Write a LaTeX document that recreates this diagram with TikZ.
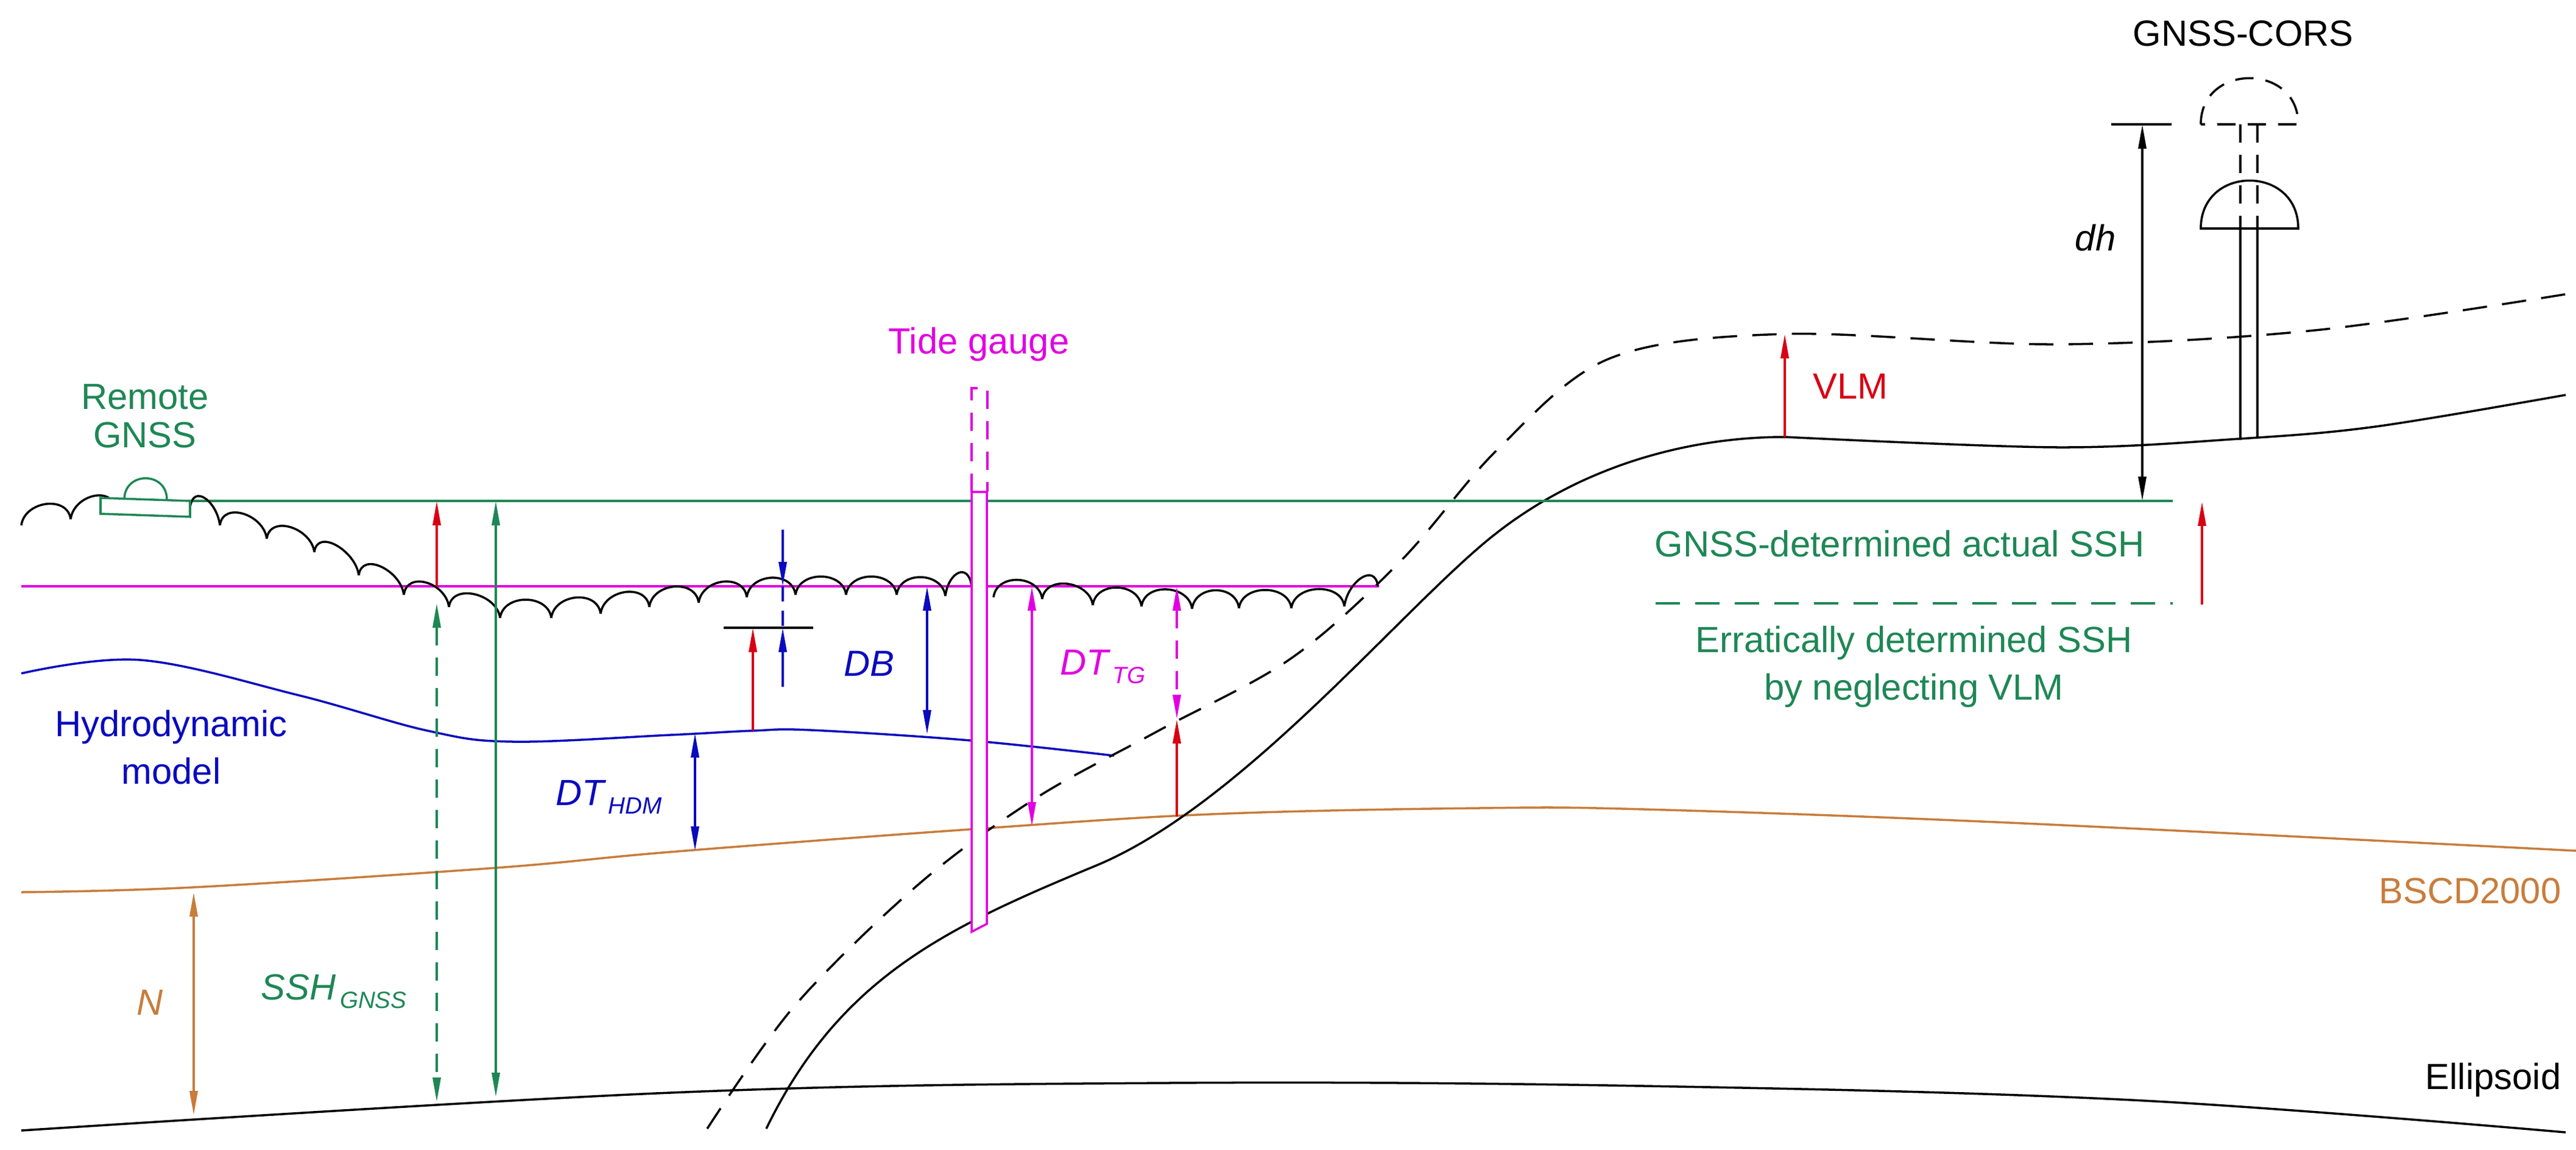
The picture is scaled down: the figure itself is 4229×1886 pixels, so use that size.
\documentclass[tikz,border=0pt]{standalone}
\usepackage{fontspec}
\setmainfont{Liberation Sans}
\usetikzlibrary{arrows.meta}
\definecolor{cgreen}{RGB}{30,135,85}
\definecolor{cmag}{RGB}{225,0,225}
\definecolor{cblue}{RGB}{10,10,190}
\definecolor{cbrown}{RGB}{200,125,60}
\definecolor{cred}{RGB}{215,0,20}
\tikzset{
  ln/.style={line width=1pt},
  tip/.style={-{Triangle[length=4mm,width=1.3mm]}},
  dtip/.style={{Triangle[length=4mm,width=1.3mm]}-{Triangle[length=4mm,width=1.3mm]}},
  lbl/.style={font=\fontsize{17}{20}\selectfont, inner sep=0pt},
  ilbl/.style={font=\fontsize{17}{20}\selectfont\itshape, inner sep=0pt},
  dsh/.style={dash pattern=on 4mm off 2.5mm},
}
\newcommand{\subtx}[1]{\raisebox{-0.45ex}{\fontsize{11}{12}\selectfont\,#1}}
\begin{document}
\begin{tikzpicture}[x=0.1mm,y=-0.1mm]
\useasboundingbox (0,0) rectangle (4229,1886);
% reference curves
\draw[ln,black] plot[smooth,tension=0.6] coordinates {(35,1855)(1100,1793)(1916,1777)(2700,1782)(3500,1805)(4212,1858)};
\draw[ln,cbrown] plot[smooth,tension=0.6] coordinates {(35,1464)(316,1456)(814,1424)(1100,1398)(1590,1361)(1988,1336)(2427,1326)(2700,1328)(3300,1350)(4229,1396)};
\draw[ln,cblue] plot[smooth,tension=0.6] coordinates {(35,1105)(231,1083)(491,1141)(702,1199)(842,1217)(1100,1206)(1236,1199)(1332,1198)(1593,1215)(1829,1240)};
\draw[ln,black,dsh] plot[smooth,tension=0.55] coordinates {(1161,1852)(1304,1651)(1508,1451)(1700,1310)(1900,1200)(2120,1080)(2300,920)(2459,737)(2643,588)(2930,548)(3378,565)(3800,542)(4229,480)};
\draw[ln,black] (1258,1852) .. controls (1380,1600) and (1560,1520) .. (1800,1420)
  .. controls (2040,1320) and (2300,1000) .. (2450,880)
  .. controls (2600,760) and (2780,717) .. (2930,717);
\draw[ln,black] plot[smooth,tension=0.55] coordinates {(2930,717)(3378,734)(3676,720)(3900,700)(4212,648)};
% sea levels
\draw[ln,cgreen] (312,822) -- (3567,822);
\draw[ln,cmag] (35,962) -- (2264,962);
\draw[ln,cgreen,dsh] (2718,990) -- (3567,990);
% waves
\foreach \ax/\ay/\bx/\by in {35/862/116/852,116/852/190/836,312/833/361/862,361/862/438/884,438/884/516/906,516/906/589/944,589/944/663/976,663/976/737/996,
737/996/821/1014,821/1014/905/1014,905/1014/986/1007,986/1007/1066/996,1066/996/1147/989,1147/989/1226/980,1226/980/1306/976,1306/976/1389/976,1389/976/1472/976,1472/976/1552/978,1552/978/1595/962,
1631/980/1711/983,1711/983/1794/993,1794/993/1874/995,1874/995/1957/999,1957/999/2034/998,2034/998/2120/998,2120/998/2207/995,2207/995/2262/962}
  \draw[ln,black] (\ax,\ay) .. controls +(5,-40) and +(-5,-40) .. (\bx,\by);
% remote GNSS
\draw[ln,cgreen,fill=white] (165,817) -- (312,822) -- (312,848) -- (165,843) -- cycle;
\draw[ln,cgreen] (204,820) .. controls (204,773) and (274,773) .. (274,820);
\node[lbl,cgreen,align=center] (rg) at (238,683) {Remote\\[-2pt]GNSS};
% tide gauge
\draw[ln,cmag,fill=white] (1595,807) -- (1620,807) -- (1620,1516) -- (1595,1529) -- cycle;
\draw[ln,cmag,dash pattern=on 3mm off 2mm] (1595,807) -- (1595,637) -- (1621,637) -- (1621,807);
\node[lbl,cmag] (tg) at (1607,565) {Tide gauge};
% coordinates for arrows
\coordinate (g1) at (717,822); \coordinate (m1) at (717,962);
\coordinate (m1b) at (717,990); \coordinate (e1) at (717,1808);
\coordinate (g2) at (814,822); \coordinate (e2) at (814,1800);
\coordinate (nb) at (318,1464); \coordinate (ne) at (318,1830);
\coordinate (h1) at (1141,1203); \coordinate (b1) at (1141,1396);
\coordinate (r1a) at (1236,1199); \coordinate (r1b) at (1236,1030);
\coordinate (bara) at (1188,1030); \coordinate (barb) at (1335,1030);
\coordinate (bl1) at (1285,869); \coordinate (bl2) at (1285,962);
\coordinate (bl3) at (1285,1030); \coordinate (bl4) at (1285,1127);
\coordinate (db1) at (1522,962); \coordinate (db2) at (1522,1205);
\coordinate (tg1) at (1694,962); \coordinate (tg2) at (1694,1356);
\coordinate (tm1) at (1932,962); \coordinate (tm2) at (1932,1180);
\coordinate (tr1) at (1932,1340);
\coordinate (v1) at (2930,717); \coordinate (v2) at (2930,548);
\coordinate (dh1) at (3517,204); \coordinate (dh2) at (3517,822);
\coordinate (dha) at (3466,204); \coordinate (dhb) at (3565,204);
\coordinate (er1) at (3615,992); \coordinate (er2) at (3615,823);
% arrows
\draw[ln,cred,tip] (m1) -- (g1);
\draw[ln,cgreen,dtip,dash pattern=on 3mm off 2mm] (m1b) -- (e1);
\draw[ln,cgreen,dtip] (g2) -- (e2);
\draw[ln,cbrown,dtip] (nb) -- (ne);
\draw[ln,cblue,dtip] (h1) -- (b1);
\draw[ln,black] (bara) -- (barb);
\draw[ln,cred,tip] (r1a) -- (r1b);
\draw[ln,cblue,tip] (bl1) -- (bl2);
\draw[ln,cblue,dash pattern=on 2.5mm off 1.5mm] (bl2) -- (bl3);
\draw[ln,cblue,tip] (bl4) -- (bl3);
\draw[ln,cblue,dtip] (db1) -- (db2);
\draw[ln,cmag,dtip] (tg1) -- (tg2);
\draw[ln,cmag,dtip,dash pattern=on 3mm off 2mm] (tm1) -- (tm2);
\draw[ln,cred,tip] (tr1) -- (tm2);
\draw[ln,cred,tip] (v1) -- (v2);
\draw[ln,black] (dha) -- (dhb);
\draw[ln,black,dtip] (dh1) -- (dh2);
\draw[ln,cred,tip] (er1) -- (er2);
% GNSS-CORS
\draw[ln,black,dash pattern=on 3mm off 2mm] (3613,204) .. controls (3613,103) and (3773,103) .. (3773,204) -- cycle;
\draw[ln,black] (3613,375) .. controls (3613,270) and (3773,270) .. (3773,375) -- cycle;
\draw[ln,black,dash pattern=on 3mm off 2mm] (3678,204) -- (3678,375) (3706,204) -- (3706,375);
\draw[ln,black] (3678,375) -- (3678,722) (3706,375) -- (3706,718);
\node[lbl,anchor=west] (cors) at (3501,55) {GNSS-CORS};
% labels
\node[lbl,cred,anchor=west] (vlm) at (2976,634) {VLM};
\node[ilbl] (dh) at (3440,390) {dh};
\node[lbl,cgreen,anchor=east] (act) at (3521,892) {GNSS-determined actual SSH};
\node[lbl,cgreen,align=center] (err) at (3142,1094) {Erratically determined SSH\\[2pt]by neglecting VLM};
\node[lbl,cblue,align=center] (hdm) at (281,1226) {Hydrodynamic\\[2pt]model};
\node[ilbl,cblue] (db) at (1427,1089) {DB};
\node[ilbl,cmag,anchor=west] (dttg) at (1740,1094) {DT\subtx{TG}};
\node[ilbl,cblue,anchor=west] (dthdm) at (912,1308) {DT\subtx{HDM}};
\node[ilbl,cbrown] (n) at (246,1645) {N};
\node[ilbl,cgreen,anchor=west] (ssh) at (428,1627) {SSH\subtx{GNSS}};
\node[lbl,cbrown,anchor=east] (bscd) at (4205,1462) {BSCD2000};
\node[lbl,anchor=east] (ell) at (4205,1772) {Ellipsoid};
\end{tikzpicture}
\end{document}
